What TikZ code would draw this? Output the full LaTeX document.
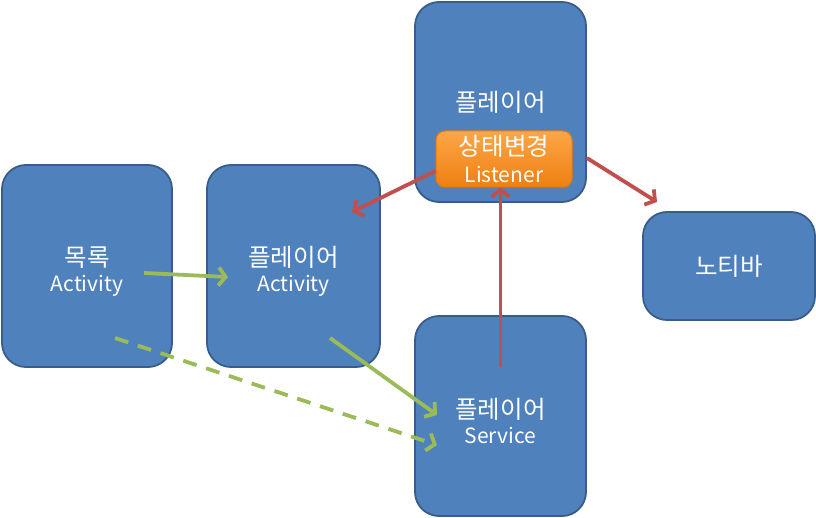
\documentclass[tikz,border=0pt]{standalone}
\usepackage{fontspec}
\setmainfont{Noto Sans CJK KR}
\usetikzlibrary{arrows.meta,calc,shadows}
\definecolor{boxfill}{HTML}{4F81BD}
\definecolor{boxline}{HTML}{385D8A}
\definecolor{orgtop}{HTML}{FCA647}
\definecolor{orgbot}{HTML}{EE8012}
\definecolor{orgline}{HTML}{E47A14}
\definecolor{redarr}{HTML}{C0504D}
\definecolor{grnarr}{HTML}{9BBB59}
\newcommand\hg[1]{{\fontsize{24.5}{27}\selectfont #1}}
\newcommand\twoline[2]{\rule{0pt}{30pt}\hg{#1}\\[-2pt]#2}
\begin{document}
\begin{tikzpicture}[
      x=1pt, y=-1pt,
      font=\fontsize{21}{27}\selectfont,
      blk/.style={draw=boxline, line width=1.8pt, fill=boxfill, rounded corners=24pt,
        text=white, align=center, inner sep=0pt},
      lsn/.style={draw=orgline, line width=1pt, top color=orgtop, bottom color=orgbot,
        rounded corners=9pt, text=white, align=center, inner sep=0pt,
        minimum width=136pt, minimum height=56pt,
        drop shadow={opacity=0.45, shadow xshift=1pt, shadow yshift=-2pt}},
      ev/.style={redarr, line width=3.8pt, -{Straight Barb[length=7pt, width=18pt]}},
      go/.style={grnarr, line width=3.8pt, -{Straight Barb[length=7pt, width=18pt]}}
    ]
    \useasboundingbox (0,0) rectangle (816,518);
    \node[blk, minimum width=170pt, minimum height=202pt] (list) at (87,266) {\twoline{목록}{Activity}};
    \node[blk, minimum width=173pt, minimum height=202pt] (pact) at (293.5,266) {\twoline{플레이어}{Activity}};
    \node[blk, minimum width=171pt, minimum height=200pt] (top) at (500.5,102) {\hg{플레이어}};
    \node[blk, minimum width=171pt, minimum height=200pt] (svc) at (500.5,416) {\twoline{플레이어}{Service}};
    \node[blk, minimum width=172pt, minimum height=108pt] (bar) at (729,266) {\hg{노티바}};
    \node[lsn] (lst) at (504,159) {\hg{상태변경}\\Listener};
    \draw[go] ($(list.center)+(57,7)$) -- ($(pact.center)+(-65.5,11)$);
    \draw[go] ($(pact.center)+(36.5,72)$) -- ($(svc.center)+(-63.5,-1)$);
    \draw[go, dash pattern=on 14pt off 10pt] ($(list.center)+(28,72)$) -- ($(svc.center)+(-63.5,29)$);
    \draw[ev] ([yshift=-12pt]lst.west) -- ($(pact.center)+(58.5,-54)$);
    \draw[ev] ($(top.east)+(0,56)$) -- ($(bar.center)+(-72,-64)$);
    \draw[ev] ($(svc.center)+(0,-49)$) -- (svc.center |- lst.south);
  \end{tikzpicture}
\end{document}
